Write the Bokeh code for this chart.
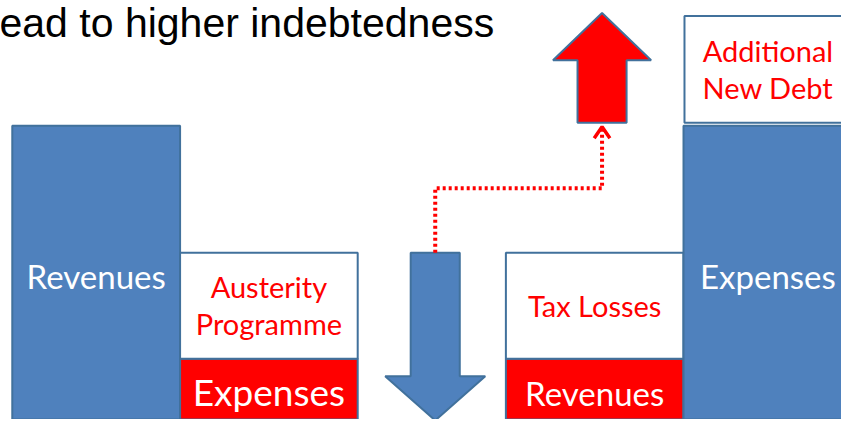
from bokeh.plotting import figure
from bokeh.models import Range1d, ColumnDataSource
from bokeh.embed import file_html
from bokeh.resources import INLINE
from bokeh.core.properties import value

# ---- data (value axis: 0 = ground line, units = px of the original slide) ----
title_text = "ead to higher indebtedness"

# stacked blocks: label, column left/right, bottom value, height
blk_labels = ["Revenues", "Expenses", "Austerity\nProgramme",
              "Revenues", "Tax Losses", "Expenses", "Additional\nNew Debt"]
blk_left   = [12, 183, 183, 515, 515, 696, 697]
blk_right  = [183, 364, 364, 696, 696, 880, 880]
blk_bottom = [0, 0, 63, 0, 63, 0, 308]
blk_height = [305, 63, 110, 63, 110, 305, 111]
blk_fill   = ["#4F81BD", "#FF0000", "#FFFFFF", "#FF0000", "#FFFFFF", "#4F81BD", "#FFFFFF"]
blk_tcolor = ["#FFFFFF", "#FFFFFF", "#FF0000", "#FFFFFF", "#FF0000", "#FFFFFF", "#FF0000"]
blk_tsize  = ["33px", "37px", "29px", "33px", "29px", "33px", "29px"]
blk_tx     = [97.5, 273.5, 273.5, 605.5, 605.5, 782, 782]
blk_ty     = [149, 29, 138, 28, 118, 149, 383]   # first-line position
line_gap   = 38

# arrows: center x, tail value, tip value, shaft width, head width, head length
arr_cx    = [443, 613]
arr_tail  = [173, 308]
arr_tip   = [-1, 422]
arr_shaft = [50, 50]
arr_headw = [102, 100]
arr_headl = [46, 49]
arr_fill  = ["#4F81BD", "#FF0000"]

# dotted connector path
conn_x = [443, 443, 613, 613]
conn_y = [173, 240, 240, 302]

OUT = "#41719C"

p = figure(width=841, height=419, output_backend="svg", toolbar_location=None,
           x_range=Range1d(0, 857), y_range=Range1d(0, 435),
           min_border=0, outline_line_color=None)
p.axis.visible = False
p.grid.visible = False
p.background_fill_color = "white"

tops = [b + h for b, h in zip(blk_bottom, blk_height)]
src = ColumnDataSource(dict(left=blk_left, right=blk_right, bottom=blk_bottom,
                            top=tops, fill=blk_fill))
p.quad(left="left", right="right", bottom="bottom", top="top", source=src,
       fill_color="fill", line_color=OUT, line_width=2)

# arrows
for cx, tail, tip, sw, hw, hl, fc in zip(arr_cx, arr_tail, arr_tip, arr_shaft,
                                         arr_headw, arr_headl, arr_fill):
    d = 1 if tip > tail else -1
    neck = tip - d * hl
    xs = [cx - sw / 2, cx + sw / 2, cx + sw / 2, cx + hw / 2, cx, cx - hw / 2, cx - sw / 2]
    ys = [tail, tail, neck, neck, tip, neck, neck]
    p.patch(xs, ys, fill_color=fc, line_color=OUT, line_width=2)

p.line(conn_x, conn_y, line_color="#FF0000", line_width=4, line_dash="3 3")
p.line([conn_x[-1] - 8, conn_x[-1], conn_x[-1] + 8],
       [conn_y[-1] - 10, conn_y[-1] + 2, conn_y[-1] - 10],
       line_color="#FF0000", line_width=3.5)

# block labels
for lab, tx, ty, tc, ts in zip(blk_labels, blk_tx, blk_ty, blk_tcolor, blk_tsize):
    lines = lab.split("\n")
    for i, ln in enumerate(lines):
        p.text(x=[tx], y=[ty - i * line_gap], text=[ln], text_color=tc,
               text_font=value("Lato"), text_font_size=ts,
               text_align="center", text_baseline="alphabetic")

p.text(x=[-1], y=[435 - 23], text=[title_text], text_color="black",
       text_font=value("Liberation Sans"), text_font_size="41px",
       text_align="left", text_baseline="alphabetic")

open("out.html", "w").write(file_html(p, INLINE))
